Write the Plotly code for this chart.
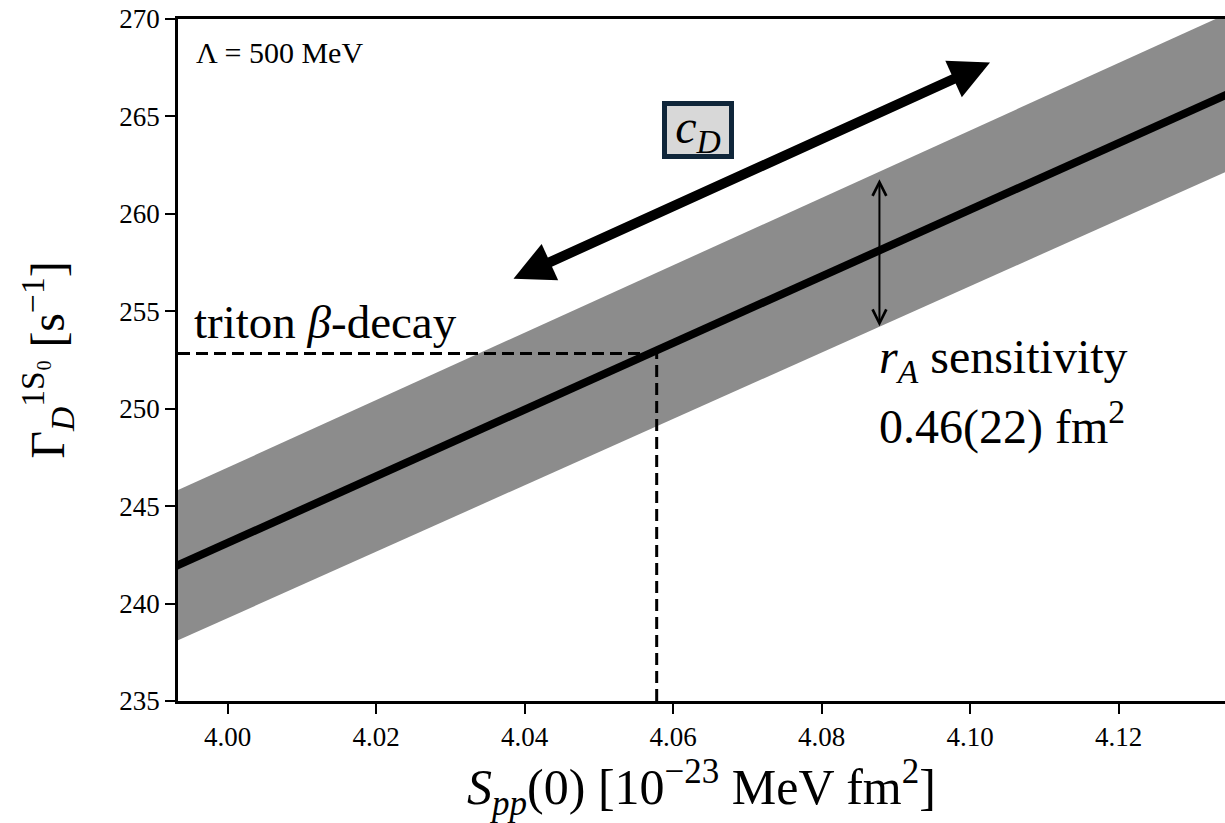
import plotly.graph_objects as go

# ---- data ----
s_pp = [3.99, 4.14]                     # x: S_pp(0) [1e-23 MeV fm^2]
gamma_central = [241.40, 267.05]        # central line
gamma_upper = [245.25, 271.20]          # band upper edge
gamma_lower = [237.55, 263.10]          # band lower edge

triton_x = 4.0578                       # triton beta-decay constraint
triton_y = 252.83

x_ticks = [4.00, 4.02, 4.04, 4.06, 4.08, 4.10, 4.12]
y_ticks = [235, 240, 245, 250, 255, 260, 265, 270]
x_range = [3.99333, 4.13434]
y_range = [235, 270]

cd_arrow = dict(x0=4.03831, y0=256.64, x1=4.10269, y1=267.77)
ra_arrow = dict(x=4.0878, y0=254.16, y1=261.78)

FONT = "'Liberation Serif', 'Times New Roman', serif"

fig = go.Figure()

# band
fig.add_trace(go.Scatter(
    x=s_pp + s_pp[::-1],
    y=gamma_upper + gamma_lower[::-1],
    fill="toself", fillcolor="rgb(140,140,140)",
    line=dict(width=0), mode="lines", hoverinfo="skip", showlegend=False))

# central line
fig.add_trace(go.Scatter(
    x=s_pp, y=gamma_central, mode="lines",
    line=dict(color="black", width=8), showlegend=False))

# dashed guide lines
fig.add_trace(go.Scatter(
    x=[x_range[0], triton_x], y=[triton_y, triton_y], mode="lines",
    line=dict(color="black", width=3, dash="12px,6px"), showlegend=False))
fig.add_trace(go.Scatter(
    x=[triton_x, triton_x], y=[y_range[0], triton_y], mode="lines",
    line=dict(color="black", width=3, dash="12px,6px"), showlegend=False))

# thick c_D double arrow
fig.add_annotation(
    x=cd_arrow["x1"], y=cd_arrow["y1"], ax=cd_arrow["x0"], ay=cd_arrow["y0"],
    xref="x", yref="y", axref="x", ayref="y", text="", showarrow=True,
    arrowside="end+start", arrowhead=2, startarrowhead=2,
    arrowsize=0.8, startarrowsize=0.8, arrowwidth=10, arrowcolor="black",
    standoff=0, startstandoff=0)

# thin r_A double arrow
fig.add_annotation(
    x=ra_arrow["x"], y=ra_arrow["y1"], ax=ra_arrow["x"], ay=ra_arrow["y0"],
    xref="x", yref="y", axref="x", ayref="y", text="", showarrow=True,
    arrowside="end+start", arrowhead=5, startarrowhead=5,
    arrowsize=1.35, startarrowsize=1.35, arrowwidth=2, arrowcolor="black",
    standoff=0, startstandoff=0)

# c_D boxed label
fig.add_annotation(
    x=4.06336, y=264.31, xref="x", yref="y", showarrow=False,
    text="<i>c</i><sub><i>D</i></sub>",
    font=dict(family=FONT, size=48, color="black"),
    bgcolor="#d8d8d8", bordercolor="#10263a", borderwidth=5, borderpad=1,
    width=60, height=46, xanchor="center", yanchor="middle")

# text labels
fig.add_annotation(
    x=3.99548, y=268.27, xref="x", yref="y", showarrow=False,
    text="Λ = 500 MeV", font=dict(family=FONT, size=30, color="black"),
    xanchor="left", yanchor="middle")
fig.add_annotation(
    x=3.99522, y=254.45, xref="x", yref="y", showarrow=False,
    text="triton <i>β</i>-decay", font=dict(family=FONT, size=47, color="black"),
    xanchor="left", yanchor="middle")
fig.add_annotation(
    x=4.08743, y=252.50, xref="x", yref="y", showarrow=False,
    text="<i>r</i><sub><i>A</i></sub> sensitivity",
    font=dict(family=FONT, size=48, color="black"),
    xanchor="left", yanchor="middle")
fig.add_annotation(
    x=4.08743, y=249.25, xref="x", yref="y", showarrow=False,
    text="0.46(22) fm<sup>2</sup>",
    font=dict(family=FONT, size=48, color="black"),
    xanchor="left", yanchor="middle")

fig.update_xaxes(
    range=x_range, tickvals=x_ticks, ticktext=[f"{v:.2f}" for v in x_ticks],
    showgrid=False, zeroline=False,
    showline=True, linecolor="black", linewidth=2.5, mirror=True,
    ticks="outside", ticklen=10, tickwidth=2, tickcolor="black",
    tickfont=dict(family=FONT, size=27, color="black"),
    title=dict(text="<i>S</i><sub><i>pp</i></sub>(0) [10<sup>−23</sup> MeV fm<sup>2</sup>]",
               font=dict(family=FONT, size=50, color="black"), standoff=16))
fig.update_yaxes(
    range=y_range, tickvals=y_ticks,
    showgrid=False, zeroline=False,
    showline=True, linecolor="black", linewidth=2.5,
    ticks="outside", ticklen=10, tickwidth=2, tickcolor="black",
    tickfont=dict(family=FONT, size=27, color="black"),
    title=dict(text="Γ<sub><i>D</i></sub><sup>1S₀</sup> [s<sup>−1</sup>]",
               font=dict(family=FONT, size=48, color="black"), standoff=40))

fig.update_layout(
    width=1225, height=823,
    margin=dict(l=178, r=0, t=19, b=122),
    paper_bgcolor="white", plot_bgcolor="white",
    showlegend=False)

fig.write_html("out.html")
